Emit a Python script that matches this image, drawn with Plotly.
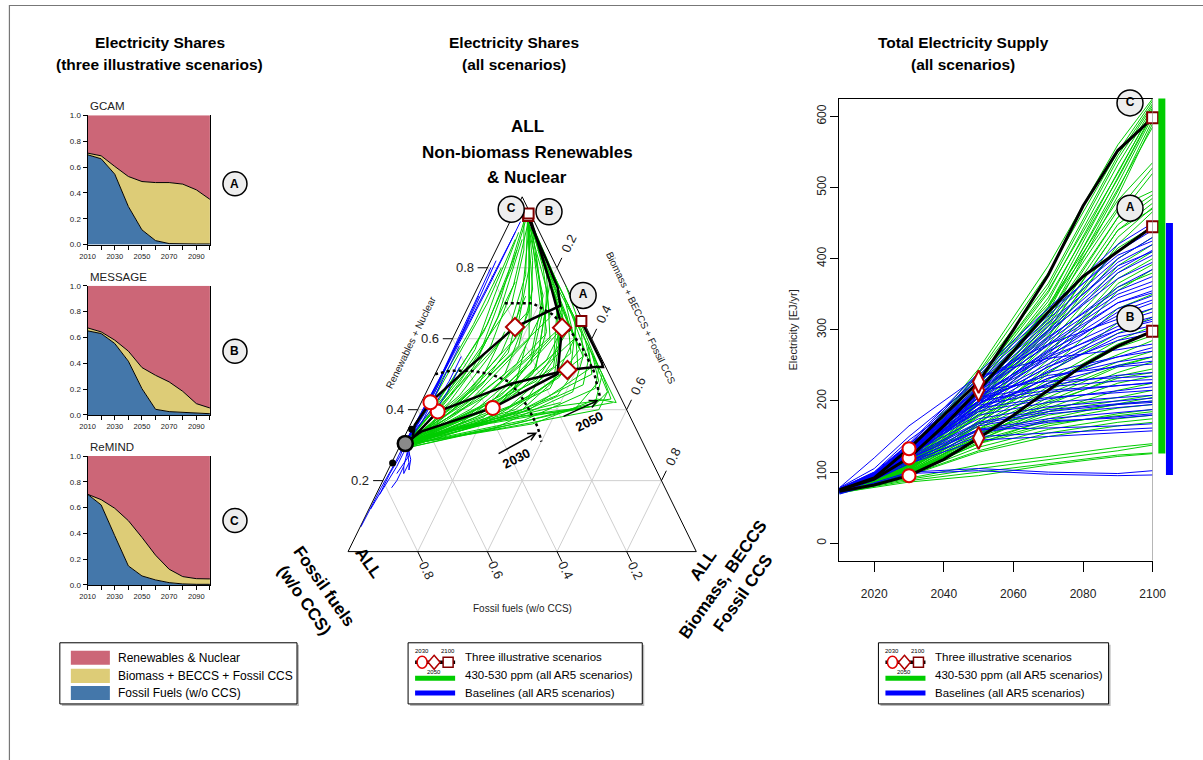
import math
import plotly.graph_objects as go

W, H = 1203, 760
SANS = "Liberation Sans Narrow, Arial Narrow, Liberation Sans, Arial, sans-serif"
SANS_W = "Liberation Sans, Arial, sans-serif"

RENEW_C = "#CC6677"
BIO_C = "#DDCC77"
FOSSIL_C = "#4477AA"
GREEN = "#00CD00"
BLUE = "#0000FF"

# ---------------------------------------------------------------- data
years = [2010, 2020, 2030, 2040, 2050, 2060, 2070, 2080, 2090, 2100]

# electricity shares of the three illustrative scenarios (fraction of total)
gcam_fossil = [0.695, 0.664, 0.545, 0.295, 0.114, 0.031, 0.008, 0.005, 0.005, 0.005]
gcam_bio = [0.013, 0.023, 0.060, 0.232, 0.374, 0.449, 0.472, 0.463, 0.419, 0.345]
message_fossil = [0.651, 0.630, 0.553, 0.416, 0.204, 0.044, 0.026, 0.020, 0.015, 0.010]
message_bio = [0.023, 0.013, 0.026, 0.078, 0.163, 0.263, 0.230, 0.163, 0.073, 0.044]
remind_fossil = [0.704, 0.621, 0.382, 0.148, 0.070, 0.039, 0.018, 0.008, 0.005, 0.005]
remind_bio = [0.000, 0.041, 0.213, 0.351, 0.299, 0.192, 0.104, 0.057, 0.044, 0.042]

# total electricity supply of the illustrative scenarios [EJ/yr]
supply_A = [75, 90, 120, 165, 215, 270, 325, 375, 410, 445]
supply_B = [73, 82, 95, 118, 148, 180, 215, 250, 277, 298]
supply_C = [75, 92, 133, 180, 227, 300, 377, 474, 552, 598]

# total electricity supply, ensemble of scenarios [EJ/yr]
ens_years = [2010, 2020, 2030, 2050, 2070, 2090, 2100]

green_2010 = [76, 75, 77, 74, 76, 75, 73, 76, 74, 75, 77, 74, 75, 76, 73,
              75, 74, 76, 75, 74, 73, 76, 75, 74, 72, 75, 74, 76, 73, 75,
              74, 72, 75, 73, 74, 76, 72, 73, 75, 74, 71, 73, 72, 70, 71,
              75, 74, 76, 75, 74, 73, 75, 74, 73, 74, 72, 73, 72, 74, 71]
green_2020 = [95, 94, 93, 92, 92, 91, 90, 90, 89, 88, 93, 91, 90, 90, 89,
              89, 88, 88, 87, 88, 87, 87, 86, 86, 85, 88, 87, 86, 87, 86,
              85, 85, 84, 84, 86, 85, 85, 84, 84, 83, 83, 82, 81, 80, 79,
              92, 91, 90, 89, 88, 87, 86, 86, 85, 85, 84, 84, 83, 84, 82]
green_2030 = [128, 125, 122, 120, 118, 116, 114, 112, 110, 108, 120, 115, 112, 115, 112,
              110, 108, 106, 105, 110, 108, 106, 104, 103, 102, 112, 108, 105, 110, 106,
              104, 102, 100, 99, 104, 102, 101, 100, 98, 97, 96, 92, 90, 88, 86,
              118, 116, 113, 111, 109, 105, 104, 103, 101, 100, 99, 98, 97, 99, 95]
green_2050 = [245, 240, 238, 228, 225, 222, 212, 210, 205, 198, 235, 212, 205, 218, 205,
              200, 195, 190, 185, 198, 190, 182, 180, 172, 168, 180, 170, 165, 178, 165,
              160, 155, 150, 145, 160, 155, 150, 145, 140, 135, 130, 110, 105, 100, 95,
              230, 222, 214, 205, 200, 188, 172, 168, 160, 152, 148, 145, 140, 142, 128]
green_2070 = [390, 380, 365, 360, 352, 340, 332, 325, 318, 312, 335, 322, 308, 332, 315,
              305, 298, 290, 285, 292, 280, 275, 265, 258, 250, 240, 230, 225, 225, 215,
              210, 200, 195, 190, 190, 185, 180, 172, 165, 160, 155, 122, 118, 112, 110,
              355, 345, 330, 300, 298, 270, 245, 238, 220, 205, 198, 185, 175, 168, 150]
green_2090 = [560, 550, 545, 540, 532, 522, 515, 505, 495, 488, 482, 468, 458, 472, 458,
              448, 440, 430, 420, 400, 390, 380, 372, 365, 355, 295, 285, 280, 265, 255,
              250, 240, 235, 225, 205, 200, 195, 190, 182, 175, 170, 135, 130, 124, 122,
              520, 512, 498, 440, 415, 360, 330, 310, 275, 248, 232, 215, 196, 180, 165]
green_2100 = [625, 622, 618, 615, 612, 608, 605, 600, 595, 590, 535, 528, 520, 495, 490,
              485, 478, 472, 466, 430, 420, 410, 400, 392, 385, 318, 305, 298, 285, 270,
              262, 255, 245, 235, 215, 208, 200, 195, 188, 180, 175, 140, 138, 127, 126,
              610, 603, 585, 470, 445, 380, 350, 330, 292, 262, 240, 225, 205, 185, 170]

blue_2010 = [77, 76, 75, 76, 74, 75, 76, 74, 75, 73, 74, 75, 78, 75, 74, 73, 74, 72, 78,
             76, 74, 73, 77, 76, 75, 74, 73, 72, 74, 73, 72, 71, 74, 72, 71, 70, 69,
             76, 75, 74, 75, 76, 74, 75, 73, 74, 76, 75, 74, 73, 72, 71]
blue_2020 = [100, 98, 97, 96, 95, 95, 96, 95, 94, 94, 93, 92, 105, 95, 94, 93, 92, 91, 120,
             96, 93, 92, 100, 98, 97, 95, 94, 93, 92, 91, 90, 89, 92, 90, 89, 85, 84,
             99, 97, 96, 95, 97, 94, 96, 93, 92, 98, 97, 96, 94, 91, 90]
blue_2030 = [140, 136, 133, 130, 128, 126, 130, 128, 125, 123, 121, 119, 150, 130, 128, 125, 122, 120, 165,
             135, 128, 124, 145, 140, 136, 132, 128, 125, 122, 118, 115, 112, 120, 115, 112, 100, 98,
             138, 134, 131, 128, 132, 126, 130, 124, 122, 138, 136, 134, 130, 120, 116]
blue_2050 = [240, 232, 228, 222, 218, 215, 220, 215, 210, 205, 200, 195, 230, 210, 205, 200, 195, 190, 235,
             200, 190, 185, 215, 205, 200, 190, 180, 175, 170, 165, 160, 155, 160, 150, 145, 105, 102,
             236, 226, 218, 212, 214, 206, 208, 196, 188, 205, 198, 194, 185, 168, 158]
blue_2070 = [330, 320, 315, 305, 300, 295, 290, 285, 280, 272, 268, 262, 280, 265, 258, 252, 248, 242, 260,
             240, 232, 225, 228, 220, 215, 205, 198, 192, 188, 182, 175, 170, 162, 155, 150, 100, 97,
             325, 310, 298, 288, 278, 270, 262, 248, 232, 236, 222, 212, 203, 185, 172]
blue_2090 = [420, 410, 400, 395, 385, 380, 355, 350, 345, 338, 330, 325, 315, 310, 305, 300, 295, 290, 272,
             262, 255, 250, 232, 228, 222, 212, 205, 200, 196, 190, 183, 178, 165, 160, 155, 98, 95,
             405, 390, 372, 360, 338, 320, 300, 285, 262, 248, 236, 222, 214, 195, 176]
blue_2100 = [450, 440, 430, 420, 412, 405, 375, 368, 362, 355, 348, 342, 330, 325, 318, 312, 306, 300, 280,
             270, 262, 256, 235, 230, 225, 215, 208, 204, 200, 195, 188, 182, 168, 162, 158, 102, 96,
             425, 410, 395, 385, 352, 338, 315, 295, 275, 252, 240, 226, 220, 198, 180]

# ternary trajectories: renewables share (r) and biomass/BECCS/fossil-CCS share (m)
# in 2010, 2030, 2050, 2070 and 2100; fossil share is 1 - r - m
tg_r2010 = [0.30, 0.31, 0.30, 0.29, 0.30, 0.31, 0.30, 0.30, 0.29, 0.30, 0.31, 0.30, 0.30,
            0.29, 0.30, 0.31, 0.30, 0.30, 0.31, 0.30, 0.29, 0.30, 0.31, 0.30, 0.29, 0.30,
            0.31, 0.30, 0.30, 0.31, 0.30, 0.29, 0.30, 0.31, 0.30, 0.29, 0.30, 0.31,
            0.30, 0.31, 0.30, 0.29, 0.30, 0.31, 0.30, 0.30, 0.29, 0.30, 0.31, 0.30, 0.30,
            0.30, 0.29, 0.30, 0.30, 0.30, 0.29, 0.30, 0.31]
tg_m2010 = [0.010, 0.010, 0.015, 0.010, 0.012, 0.010, 0.015, 0.010, 0.012, 0.010, 0.010, 0.015, 0.010,
            0.012, 0.010, 0.010, 0.015, 0.010, 0.010, 0.012, 0.010, 0.010, 0.015, 0.010, 0.012, 0.010,
            0.010, 0.015, 0.010, 0.010, 0.012, 0.010, 0.010, 0.015, 0.010, 0.012, 0.010, 0.010,
            0.010, 0.010, 0.015, 0.010, 0.010, 0.010, 0.010, 0.010, 0.010, 0.010, 0.010, 0.010, 0.010,
            0.010, 0.010, 0.010, 0.010, 0.010, 0.010, 0.010, 0.010]
tg_r2030 = [0.40, 0.42, 0.45, 0.38, 0.40, 0.42, 0.37, 0.36, 0.35, 0.38, 0.40, 0.36, 0.35,
            0.34, 0.36, 0.44, 0.46, 0.48, 0.41, 0.39, 0.37, 0.36, 0.38, 0.35, 0.34, 0.36,
            0.40, 0.43, 0.45, 0.50, 0.51, 0.39, 0.37, 0.40, 0.33, 0.34, 0.40, 0.42,
            0.41, 0.43, 0.39, 0.38, 0.42, 0.44, 0.40, 0.37, 0.36, 0.39, 0.43, 0.38, 0.41,
            0.44, 0.35, 0.37, 0.34, 0.33, 0.35, 0.32, 0.36]
tg_m2030 = [0.05, 0.08, 0.05, 0.10, 0.15, 0.20, 0.12, 0.18, 0.25, 0.25, 0.30, 0.30, 0.28,
            0.22, 0.35, 0.10, 0.12, 0.15, 0.22, 0.20, 0.08, 0.06, 0.04, 0.10, 0.15, 0.22,
            0.28, 0.25, 0.18, 0.10, 0.08, 0.12, 0.32, 0.32, 0.10, 0.05, 0.02, 0.03,
            0.10, 0.14, 0.16, 0.18, 0.12, 0.18, 0.20, 0.22, 0.14, 0.06, 0.06, 0.28, 0.26,
            0.22, 0.18, 0.05, 0.12, 0.08, 0.15, 0.06, 0.20]
tg_r2050 = [0.55, 0.58, 0.62, 0.50, 0.55, 0.60, 0.48, 0.46, 0.45, 0.52, 0.50, 0.42, 0.40,
            0.40, 0.43, 0.62, 0.65, 0.66, 0.57, 0.52, 0.47, 0.45, 0.50, 0.42, 0.40, 0.44,
            0.55, 0.60, 0.64, 0.68, 0.70, 0.53, 0.46, 0.52, 0.38, 0.40, 0.52, 0.56,
            0.56, 0.60, 0.53, 0.50, 0.58, 0.61, 0.54, 0.49, 0.47, 0.52, 0.57, 0.47, 0.56,
            0.63, 0.44, 0.47, 0.38, 0.36, 0.39, 0.35, 0.41]
tg_m2050 = [0.10, 0.12, 0.08, 0.20, 0.25, 0.28, 0.30, 0.35, 0.42, 0.38, 0.45, 0.50, 0.52,
            0.45, 0.50, 0.15, 0.20, 0.25, 0.32, 0.33, 0.15, 0.12, 0.06, 0.22, 0.30, 0.38,
            0.40, 0.35, 0.30, 0.18, 0.12, 0.22, 0.48, 0.44, 0.20, 0.10, 0.03, 0.04,
            0.18, 0.22, 0.26, 0.28, 0.20, 0.26, 0.30, 0.36, 0.24, 0.10, 0.08, 0.44, 0.36,
            0.30, 0.30, 0.08, 0.30, 0.22, 0.35, 0.14, 0.40]
tg_r2070 = [0.72, 0.75, 0.80, 0.68, 0.72, 0.78, 0.62, 0.60, 0.55, 0.65, 0.58, 0.50, 0.45,
            0.48, 0.42, 0.78, 0.82, 0.80, 0.70, 0.66, 0.60, 0.56, 0.64, 0.52, 0.48, 0.52,
            0.62, 0.72, 0.76, 0.84, 0.85, 0.67, 0.52, 0.60, 0.45, 0.48, 0.64, 0.70,
            0.72, 0.76, 0.68, 0.62, 0.74, 0.74, 0.64, 0.57, 0.58, 0.66, 0.72, 0.54, 0.66,
            0.76, 0.54, 0.58, 0.40, 0.39, 0.41, 0.38, 0.43]
tg_m2070 = [0.08, 0.10, 0.07, 0.18, 0.20, 0.18, 0.32, 0.35, 0.40, 0.33, 0.40, 0.48, 0.52,
            0.48, 0.56, 0.12, 0.12, 0.16, 0.25, 0.28, 0.18, 0.16, 0.08, 0.28, 0.35, 0.40,
            0.36, 0.26, 0.22, 0.10, 0.08, 0.22, 0.46, 0.38, 0.25, 0.14, 0.04, 0.05,
            0.14, 0.14, 0.22, 0.26, 0.16, 0.20, 0.30, 0.38, 0.26, 0.10, 0.06, 0.42, 0.30,
            0.20, 0.32, 0.10, 0.45, 0.38, 0.50, 0.26, 0.54]
tg_r2100 = [0.93, 0.94, 0.95, 0.92, 0.93, 0.94, 0.90, 0.88, 0.85, 0.90, 0.82, 0.60, 0.58,
            0.56, 0.55, 0.93, 0.95, 0.94, 0.92, 0.88, 0.80, 0.72, 0.85, 0.70, 0.62, 0.66,
            0.86, 0.92, 0.93, 0.95, 0.95, 0.91, 0.64, 0.75, 0.58, 0.62, 0.80, 0.88,
            0.92, 0.94, 0.90, 0.84, 0.93, 0.92, 0.86, 0.78, 0.76, 0.88, 0.90, 0.70, 0.88,
            0.94, 0.68, 0.76, 0.42, 0.41, 0.45, 0.42, 0.50]
tg_m2100 = [0.04, 0.05, 0.04, 0.06, 0.05, 0.05, 0.08, 0.10, 0.12, 0.08, 0.15, 0.38, 0.40,
            0.42, 0.43, 0.05, 0.04, 0.05, 0.07, 0.10, 0.12, 0.15, 0.06, 0.22, 0.30, 0.32,
            0.12, 0.06, 0.06, 0.04, 0.03, 0.07, 0.35, 0.25, 0.22, 0.14, 0.04, 0.04,
            0.06, 0.05, 0.08, 0.12, 0.05, 0.06, 0.12, 0.18, 0.20, 0.06, 0.04, 0.28, 0.10,
            0.05, 0.26, 0.10, 0.55, 0.50, 0.52, 0.40, 0.48]

tb_r2010 = [0.30, 0.31, 0.30, 0.30, 0.31, 0.30, 0.30, 0.31, 0.30, 0.30, 0.31, 0.30, 0.30, 0.31, 0.29, 0.30, 0.30]
tb_m2010 = [0.010, 0.010, 0.012, 0.010, 0.010, 0.010, 0.010, 0.010, 0.010, 0.010, 0.010, 0.010, 0.010, 0.010, 0.010, 0.010, 0.010]
tb_r2030 = [0.25, 0.27, 0.28, 0.29, 0.30, 0.35, 0.37, 0.38, 0.36, 0.40, 0.42, 0.40, 0.33, 0.34, 0.32, 0.28, 0.28]
tb_m2030 = [0.010, 0.015, 0.020, 0.030, 0.020, 0.020, 0.020, 0.015, 0.020, 0.020, 0.020, 0.015, 0.030, 0.020, 0.020, 0.030, 0.030]
tb_r2050 = [0.18, 0.22, 0.24, 0.27, 0.26, 0.42, 0.45, 0.48, 0.47, 0.55, 0.58, 0.52, 0.38, 0.40, 0.37, 0.25, 0.24]
tb_m2050 = [0.005, 0.010, 0.020, 0.040, 0.050, 0.030, 0.025, 0.020, 0.020, 0.020, 0.025, 0.020, 0.050, 0.040, 0.030, 0.050, 0.040]
tb_r2070 = [0.12, 0.17, 0.20, 0.24, 0.23, 0.50, 0.55, 0.60, 0.62, 0.70, 0.75, 0.68, 0.45, 0.48, 0.43, 0.22, 0.20]
tb_m2070 = [0.003, 0.010, 0.015, 0.035, 0.060, 0.030, 0.020, 0.020, 0.015, 0.020, 0.030, 0.025, 0.060, 0.050, 0.030, 0.050, 0.040]
tb_r2100 = [0.07, 0.12, 0.16, 0.22, 0.25, 0.58, 0.65, 0.72, 0.80, 0.82, 0.93, 0.90, 0.52, 0.55, 0.48, 0.24, 0.18]
tb_m2100 = [0.002, 0.005, 0.010, 0.030, 0.050, 0.030, 0.020, 0.015, 0.010, 0.015, 0.030, 0.030, 0.060, 0.050, 0.030, 0.040, 0.035]

# outer envelopes of the mitigation scenarios in 2030 and 2050
env2030_r = [0.50, 0.51, 0.51, 0.50, 0.48, 0.445, 0.40, 0.35, 0.31]
env2030_m = [0.00, 0.04, 0.095, 0.16, 0.22, 0.27, 0.32, 0.37, 0.40]
env2050_r = [0.70, 0.70, 0.67, 0.62, 0.57, 0.51, 0.43]
env2050_m = [0.10, 0.18, 0.25, 0.33, 0.39, 0.45, 0.51]

# additional single observations
obs_r = [0.345, 0.25]
obs_m = [0.010, 0.003]

# ---------------------------------------------------------------- helpers
# The page shows the figure inset by a few pixels and at ~98 % scale, so window
# pixel positions are mapped back onto paper fractions through this correction.
VIEW_SX, VIEW_OX = 0.981, 8.2
VIEW_SY, VIEW_OY = 0.986, 4.6


def fx(px):
    return ((px - VIEW_OX) / VIEW_SX) / W


def fy(py):
    return 1 - ((py - VIEW_OY) / VIEW_SY) / H


def tern(r, m):
    """(renewables, biomass) shares -> position in the triangle plane."""
    return m + r / 2.0, r


def tern_many(rs, ms):
    xs, ys = [], []
    for r, m in zip(rs, ms):
        x, y = tern(r, m)
        xs.append(x)
        ys.append(y)
    return xs, ys


fig = go.Figure()
shapes = []
annotations = []


def text(x, y, s, size=12, bold=False, xref="paper", yref="paper", angle=0,
         xanchor="center", yanchor="middle", family=SANS, color="black"):
    annotations.append(dict(
        x=x, y=y, xref=xref, yref=yref, text=f"<b>{s}</b>" if bold else s,
        showarrow=False, textangle=angle, xanchor=xanchor, yanchor=yanchor,
        font=dict(size=size, family=family, color=color)))


def stacked_title(cx, cy, lines, angle, step=25.5, size=17):
    """Bold multi-line title rotated by `angle` deg (clockwise), first line at (cx, cy)."""
    a = math.radians(angle)
    nx, ny = -math.sin(a), math.cos(a)   # screen direction of the next line
    for i, s in enumerate(lines):
        text(fx(cx + i * step * nx), fy(cy + i * step * ny), s, size=size, bold=True,
             angle=angle, family=SANS_W)


def circle_label_paper(cx, cy, letter, r=12):
    shapes.append(dict(type="circle", xref="paper", yref="paper",
                       x0=fx(cx - r), x1=fx(cx + r), y0=fy(cy + r), y1=fy(cy - r),
                       fillcolor="#EEEEEE", line=dict(color="black", width=1.5)))
    text(fx(cx), fy(cy), letter, size=12, bold=True, family=SANS_W)


def letter_markers(xs, ys, letters, xa, ya):
    fig.add_trace(go.Scatter(
        x=xs, y=ys, mode="markers+text", text=[f"<b>{t}</b>" for t in letters],
        textposition="middle center", textfont=dict(size=12, family=SANS_W, color="black"),
        marker=dict(size=26, color="#EEEEEE", line=dict(color="black", width=1.5)),
        cliponaxis=False, xaxis=xa, yaxis=ya, showlegend=False, hoverinfo="skip"))


layout_axes = {}

# ---------------------------------------------------------------- left: share panels
panel_specs = [
    ("GCAM", gcam_fossil, gcam_bio, "A", 115.7, 244.7, 184, 1),
    ("MESSAGE", message_fossil, message_bio, "B", 285.7, 414.7, 351, 2),
    ("ReMIND", remind_fossil, remind_bio, "C", 455.7, 584.3, 520, 3),
]
PANEL_L, PANEL_R = 87.7, 210.0
for name, fossil, bio, letter, top, bottom, label_y, k in panel_specs:
    xa, ya = ("x", "y") if k == 1 else (f"x{k}", f"y{k}")
    mid = [f + b for f, b in zip(fossil, bio)]
    renew = [1 - f - b for f, b in zip(fossil, bio)]
    upper = [m + r for m, r in zip(mid, renew)]
    common = dict(mode="lines", xaxis=xa, yaxis=ya, showlegend=False, hoverinfo="skip")
    fig.add_trace(go.Scatter(x=years, y=fossil, fill="tozeroy", fillcolor=FOSSIL_C,
                             line=dict(color="black", width=1), **common))
    fig.add_trace(go.Scatter(x=years, y=mid, fill="tonexty", fillcolor=BIO_C,
                             line=dict(color="black", width=1), **common))
    fig.add_trace(go.Scatter(x=years, y=upper, fill="tonexty", fillcolor=RENEW_C,
                             line=dict(color=RENEW_C, width=0), **common))
    xkey = "xaxis" if k == 1 else f"xaxis{k}"
    ykey = "yaxis" if k == 1 else f"yaxis{k}"
    layout_axes[xkey] = dict(
        domain=[fx(PANEL_L), fx(PANEL_R)], range=[2010, 2100], anchor=ya,
        tickvals=years, ticktext=[str(y) if (y - 2010) % 20 == 0 else "" for y in years],
        ticks="outside", ticklen=4, tickwidth=1, tickcolor="black",
        showline=True, linecolor="black", linewidth=1, showgrid=False, zeroline=False,
        tickfont=dict(size=7.5, family=SANS, color="#222"))
    layout_axes[ykey] = dict(
        domain=[fy(bottom), fy(top)], range=[0, 1], anchor=xa,
        tickvals=[0, 0.2, 0.4, 0.6, 0.8, 1.0],
        ticktext=["0.0", "0.2", "0.4", "0.6", "0.8", "1.0"],
        ticks="outside", ticklen=4, tickwidth=1, tickcolor="black",
        showline=True, mirror=True, linecolor="black", linewidth=1,
        showgrid=False, zeroline=False, tickfont=dict(size=8, family=SANS, color="#222"))
    text(fx(PANEL_L), fy(top - 1), name, size=11.5, xanchor="left", yanchor="bottom",
         color="#222")
    circle_label_paper(235, label_y, letter)

# ---------------------------------------------------------------- middle: ternary
TX0, TX1 = 328, 712          # pixel extent of the ternary subplot
TY0, TY1 = 574, 183
T_LEFT, T_SCALE_X = 348, 348  # triangle base left corner and width in px
T_BASE, T_SCALE_Y = 551, 354  # triangle base line and height in px
layout_axes["xaxis4"] = dict(domain=[fx(TX0), fx(TX1)], visible=False, anchor="y4",
                             range=[(TX0 - T_LEFT) / T_SCALE_X, (TX1 - T_LEFT) / T_SCALE_X])
layout_axes["yaxis4"] = dict(domain=[fy(TY0), fy(TY1)], visible=False, anchor="x4",
                             range=[(T_BASE - TY0) / T_SCALE_Y, (T_BASE - TY1) / T_SCALE_Y])
TA = dict(xaxis="x4", yaxis="y4", showlegend=False, hoverinfo="skip")

levels = [0.2, 0.4, 0.6, 0.8]
gx, gy = [], []
for v in levels:
    for (r0, m0), (r1, m1) in [((v, 0.0), (v, 1 - v)),
                               ((0.0, v), (1 - v, v)),
                               ((0.0, 1 - v), (1 - v, 0.0))]:
        a, b = tern(r0, m0)
        c, d = tern(r1, m1)
        gx += [a, c, None]
        gy += [b, d, None]
fig.add_trace(go.Scatter(x=gx, y=gy, mode="lines", line=dict(color="#CFCFCF", width=1), **TA))

ox, oy = tern_many([0, 0, 1, 0], [0, 1, 0, 0])
fig.add_trace(go.Scatter(x=ox, y=oy, mode="lines", line=dict(color="black", width=1), **TA))

# tick marks and labels on the three sides
tx, ty = [], []
for v in levels:
    lab = f"{v:.1f}"
    # renewables (left side, horizontal grid)
    a, b = tern(v, 0.0)
    c, d = tern(v, -0.028)
    tx += [a, c, None]
    ty += [b, d, None]
    x, y = tern(v, -0.065)
    text(x, y, lab, size=13, xref="x4", yref="y4", family=SANS_W, color="#222")
    # biomass (right side)
    a, b = tern(1 - v, v)
    c, d = tern(1 - v + 0.028, v)
    tx += [a, c, None]
    ty += [b, d, None]
    x, y = tern(1 - v + 0.068, v)
    text(x, y, lab, size=13, xref="x4", yref="y4", angle=-64, family=SANS_W, color="#222")
    # fossil (bottom side)
    a, b = tern(0.0, 1 - v)
    c, d = tern(-0.028, 1 - v + 0.028)
    tx += [a, c, None]
    ty += [b, d, None]
    x, y = tern(-0.052, 1 - v + 0.052)
    text(x, y, lab, size=13, xref="x4", yref="y4", angle=64, family=SANS_W, color="#222")
fig.add_trace(go.Scatter(x=tx, y=ty, mode="lines", line=dict(color="black", width=1), **TA))

# mitigation scenarios
for i in range(len(tg_r2030)):
    rs = [tg_r2010[i], tg_r2030[i], tg_r2050[i], tg_r2070[i], tg_r2100[i]]
    ms = [tg_m2010[i], tg_m2030[i], tg_m2050[i], tg_m2070[i], tg_m2100[i]]
    xs, ys = tern_many(rs, ms)
    fig.add_trace(go.Scatter(x=xs, y=ys, mode="lines", line=dict(color=GREEN, width=1), **TA))
# baselines
for i in range(len(tb_r2030)):
    rs = [tb_r2010[i], tb_r2030[i], tb_r2050[i], tb_r2070[i], tb_r2100[i]]
    ms = [tb_m2010[i], tb_m2030[i], tb_m2050[i], tb_m2070[i], tb_m2100[i]]
    xs, ys = tern_many(rs, ms)
    fig.add_trace(go.Scatter(x=xs, y=ys, mode="lines", line=dict(color=BLUE, width=1), **TA))

# envelopes
for er, em in [(env2030_r, env2030_m), (env2050_r, env2050_m)]:
    xs, ys = tern_many(er, em)
    fig.add_trace(go.Scatter(x=xs, y=ys, mode="lines",
                             line=dict(color="black", width=2.5, dash="dot"), **TA))

# illustrative scenario paths
illus = [("A", gcam_fossil, gcam_bio), ("B", message_fossil, message_bio),
         ("C", remind_fossil, remind_bio)]
ends = {}
paths = {}
for letter, fossil, bio in illus:
    renew = [1 - f - b for f, b in zip(fossil, bio)]
    xs, ys = tern_many(renew, bio)
    ends[letter] = (xs[-1], ys[-1])
    paths[letter] = (xs, ys)
    fig.add_trace(go.Scatter(x=xs, y=ys, mode="lines", line=dict(color="black", width=2.5), **TA))

# common 2010 starting point: mean of the three scenarios
start_x = sum(paths[k][0][0] for k in paths) / 3
start_y = sum(paths[k][1][0] for k in paths) / 3
fig.add_trace(go.Scatter(x=[start_x], y=[start_y], mode="markers",
                         marker=dict(symbol="circle", size=15, color="#8A8A8A",
                                     line=dict(color="black", width=2.5)), **TA))
xs, ys = tern_many(obs_r, obs_m)
fig.add_trace(go.Scatter(x=xs, y=ys, mode="markers",
                         marker=dict(size=7, color="black"), **TA))
for letter in paths:
    xs, ys = paths[letter]
    fig.add_trace(go.Scatter(x=[xs[2]], y=[ys[2]], mode="markers",
                             marker=dict(symbol="circle", size=14, color="white",
                                         line=dict(color="#E00000", width=2)), **TA))
    fig.add_trace(go.Scatter(x=[xs[4]], y=[ys[4]], mode="markers",
                             marker=dict(symbol="diamond", size=14, color="white",
                                         line=dict(color="#B00000", width=2)), **TA))
    fig.add_trace(go.Scatter(x=[xs[9]], y=[ys[9]], mode="markers",
                             marker=dict(symbol="square", size=10, color="white",
                                         line=dict(color="#800000", width=2)), **TA))

# letter labels beside the 2100 end points
letter_markers([ends["A"][0] + 0.005, ends["B"][0] + 0.06, ends["C"][0] - 0.05],
               [ends["A"][1] + 0.072, ends["B"][1] + 0.012, ends["C"][1] + 0.012],
               ["A", "B", "C"], "x4", "y4")

# arrows pointing at the envelopes
for (r0, m0), (r1, m1), (rl, ml), lab in [
        ((0.274, 0.291), (0.336, 0.375), (0.262, 0.352), "2030"),
        ((0.379, 0.425), (0.427, 0.506), (0.366, 0.510), "2050")]:
    ax_, ay_ = tern(r0, m0)
    x1, y1 = tern(r1, m1)
    annotations.append(dict(x=x1, y=y1, ax=ax_, ay=ay_, xref="x4", yref="y4",
                            axref="x4", ayref="y4", text="", showarrow=True,
                            arrowhead=5, arrowsize=1, arrowwidth=1.5, arrowcolor="black"))
    x, y = tern(rl, ml)
    text(x, y, lab, size=13, bold=True, xref="x4", yref="y4", angle=-27, family=SANS_W)

# side titles
x, y = tern(0.59, -0.115)
text(x, y, "Renewables + Nuclear", size=10, xref="x4", yref="y4", angle=-64, color="#222")
x, y = tern(0.658, 0.513)
text(x, y, "Biomass + BECCS + Fossil CCS", size=10, xref="x4", yref="y4", angle=64, color="#222")
text(fx(522), fy(608), "Fossil fuels (w/o CCS)", size=10, color="#222")

# vertex titles
stacked_title(527, 127, ["ALL", "Non-biomass Renewables", "&amp; Nuclear"], 0)
stacked_title(368, 562, ["ALL"], 55)
stacked_title(324, 586, ["Fossil fuels", "(w/o CCS)"], 55, step=24)
stacked_title(703, 565, ["ALL", "Biomass, BECCS", "Fossil CCS"], -55, step=24)

# ---------------------------------------------------------------- right: total supply
RX0, RX1, RY0, RY1 = 839, 1152, 560, 99
Y_LO, Y_HI = -24.4, 625
layout_axes["xaxis5"] = dict(
    domain=[fx(RX0), fx(RX1)], range=[2010, 2100], anchor="y5",
    tickvals=[2020, 2040, 2060, 2080, 2100], ticks="outside", ticklen=10,
    tickcolor="black", showline=True, mirror=True, linecolor="black", linewidth=1,
    showgrid=False, zeroline=False, ticklabelstandoff=12,
    tickfont=dict(size=12, family=SANS_W, color="#222"))
layout_axes["yaxis5"] = dict(
    domain=[fy(RY0), fy(RY1)], range=[Y_LO, Y_HI], anchor="x5",
    tickvals=[0, 100, 200, 300, 400, 500, 600], ticks="outside", ticklen=8,
    tickcolor="black", tickangle=-90, showline=True, linecolor="black", linewidth=1,
    showgrid=False, zeroline=False, tickfont=dict(size=12, family=SANS_W, color="#222"))
RA = dict(xaxis="x5", yaxis="y5", showlegend=False, hoverinfo="skip")

green_cols = [green_2010, green_2020, green_2030, green_2050, green_2070, green_2090, green_2100]
blue_cols = [blue_2010, blue_2020, blue_2030, blue_2050, blue_2070, blue_2090, blue_2100]
for i in range(len(green_2100)):
    fig.add_trace(go.Scatter(x=ens_years, y=[col[i] for col in green_cols], mode="lines",
                             line=dict(color=GREEN, width=1), **RA))
for i in range(len(blue_2100)):
    fig.add_trace(go.Scatter(x=ens_years, y=[col[i] for col in blue_cols], mode="lines",
                             line=dict(color=BLUE, width=1), **RA))
for supply in [supply_A, supply_B, supply_C]:
    fig.add_trace(go.Scatter(x=years, y=supply, mode="lines",
                             line=dict(color="black", width=3), **RA))
for supply in [supply_A, supply_B, supply_C]:
    fig.add_trace(go.Scatter(x=[years[2]], y=[supply[2]], mode="markers", cliponaxis=False,
                             marker=dict(symbol="circle", size=13, color="white",
                                         line=dict(color="#E00000", width=2)), **RA))
    fig.add_trace(go.Scatter(x=[years[4]], y=[supply[4]], mode="markers", cliponaxis=False,
                             marker=dict(symbol="diamond-tall", size=16, color="white",
                                         line=dict(color="#B00000", width=2)), **RA))
    fig.add_trace(go.Scatter(x=[years[9]], y=[supply[9]], mode="markers", cliponaxis=False,
                             marker=dict(symbol="square", size=11, color="white",
                                         line=dict(color="#800000", width=2)), **RA))
letter_markers([2093.5, 2093.5, 2093.5],
               [supply_A[-1] + 26, supply_B[-1] + 18, supply_C[-1] + 21],
               ["A", "B", "C"], "x5", "y5")
shapes.append(dict(type="line", xref="x5", yref="paper", x0=2100, x1=2100,
                   y0=fy(RY0), y1=fy(RY1), line=dict(color="#888888", width=1.2)))
annotations.append(dict(x=fx(793), y=fy(330), xref="paper", yref="paper",
                        text="Electricity [EJ/yr]", textangle=-90, showarrow=False,
                        font=dict(size=11, family=SANS_W, color="#222")))

# 2100 ranges of both ensembles as bars beside the panel
BY0, BY1 = 560, 80
px_per_unit = (RY0 - RY1) / (Y_HI - Y_LO)
layout_axes["xaxis6"] = dict(domain=[fx(1155), fx(1178)], range=[0, 1], visible=False,
                             anchor="y6")
layout_axes["yaxis6"] = dict(domain=[fy(BY0), fy(BY1)], visible=False, anchor="x6",
                             range=[Y_LO, Y_LO + (BY0 - BY1) / px_per_unit])
fig.add_trace(go.Scatter(x=[0.27, 0.27], y=[min(green_2100), max(green_2100)], mode="lines",
                         line=dict(color=GREEN, width=7), xaxis="x6", yaxis="y6",
                         showlegend=False, hoverinfo="skip"))
fig.add_trace(go.Scatter(x=[0.6, 0.6], y=[min(blue_2100), max(blue_2100)], mode="lines",
                         line=dict(color=BLUE, width=7), xaxis="x6", yaxis="y6",
                         showlegend=False, hoverinfo="skip"))

# ---------------------------------------------------------------- titles
for cx, l1, l2 in [(160, "Electricity Shares", "(three illustrative scenarios)"),
                   (514, "Electricity Shares", "(all scenarios)"),
                   (963, "Total Electricity Supply", "(all scenarios)")]:
    text(fx(cx), fy(43), l1, size=15.5, bold=True)
    text(fx(cx), fy(65), l2, size=15.5, bold=True)

# ---------------------------------------------------------------- legends
def legend_box(x0, x1, y0=642, y1=703):
    shapes.append(dict(type="rect", xref="paper", yref="paper", x0=fx(x0 + 2), x1=fx(x1 + 2),
                       y0=fy(y1 + 2), y1=fy(y0 + 2), fillcolor="#BBBBBB",
                       line=dict(width=0)))
    shapes.append(dict(type="rect", xref="paper", yref="paper", x0=fx(x0), x1=fx(x1),
                       y0=fy(y1), y1=fy(y0), fillcolor="white",
                       line=dict(color="black", width=1)))


legend_box(60, 297)
for yc, col, lab in [(657, RENEW_C, "Renewables &amp; Nuclear"),
                     (675, BIO_C, "Biomass + BECCS + Fossil CCS"),
                     (692, FOSSIL_C, "Fossil Fuels (w/o CCS)")]:
    shapes.append(dict(type="rect", xref="paper", yref="paper", x0=fx(71), x1=fx(110),
                       y0=fy(yc + 7), y1=fy(yc - 7), fillcolor=col, line=dict(width=0)))
    text(fx(116), fy(yc), lab, size=12, xanchor="left")

for x0, x1 in [(408, 642), (878, 1108)]:
    legend_box(x0, x1)
    # three illustrative scenarios icon
    shapes.append(dict(type="line", xref="paper", yref="paper", x0=fx(x0 + 7), x1=fx(x0 + 47),
                       y0=fy(661.5), y1=fy(661.5), line=dict(color="black", width=3.5)))
    shapes.append(dict(type="circle", xref="paper", yref="paper", x0=fx(x0 + 9), x1=fx(x0 + 19),
                       y0=fy(667.5), y1=fy(655.5), fillcolor="white",
                       line=dict(color="#E00000", width=1.5)))
    dx = x0 + 26
    shapes.append(dict(type="path", xref="paper", yref="paper",
                       path=f"M {fx(dx)} {fy(654.5)} L {fx(dx + 6)} {fy(661.5)} L {fx(dx)} {fy(668.5)}"
                            f" L {fx(dx - 6)} {fy(661.5)} Z",
                       fillcolor="white", line=dict(color="#B00000", width=1.5)))
    shapes.append(dict(type="rect", xref="paper", yref="paper", x0=fx(x0 + 35), x1=fx(x0 + 45),
                       y0=fy(666.5), y1=fy(656.5), fillcolor="white",
                       line=dict(color="#800000", width=1.5)))
    text(fx(x0 + 14), fy(650), "2030", size=6)
    text(fx(x0 + 40), fy(650), "2100", size=6)
    text(fx(x0 + 26), fy(671), "2050", size=6)
    shapes.append(dict(type="line", xref="paper", yref="paper", x0=fx(x0 + 7), x1=fx(x0 + 47),
                       y0=fy(677.5), y1=fy(677.5), line=dict(color=GREEN, width=5)))
    shapes.append(dict(type="line", xref="paper", yref="paper", x0=fx(x0 + 7), x1=fx(x0 + 47),
                       y0=fy(692), y1=fy(692), line=dict(color=BLUE, width=5)))
    text(fx(x0 + 55), fy(656), "Three illustrative scenarios", size=11.5, xanchor="left")
    text(fx(x0 + 55), fy(674), "430-530 ppm (all AR5 scenarios)", size=11.5, xanchor="left")
    text(fx(x0 + 55), fy(692), "Baselines (all AR5 scenarios)", size=11.5, xanchor="left")

# outer frame, kept just inside the figure's top-left corner
shapes.append(dict(type="rect", xref="paper", yref="paper", x0=max(fx(6), 0.0012), x1=1.02,
                   y0=-0.02, y1=min(fy(6), 0.998), line=dict(color="#777777", width=1.2)))

fig.update_layout(
    width=W, height=H, margin=dict(l=0, r=0, t=0, b=0),
    paper_bgcolor="white", plot_bgcolor="white", showlegend=False,
    font=dict(family=SANS, color="black"),
    shapes=shapes, annotations=annotations, **layout_axes)

fig.write_html("out.html")
